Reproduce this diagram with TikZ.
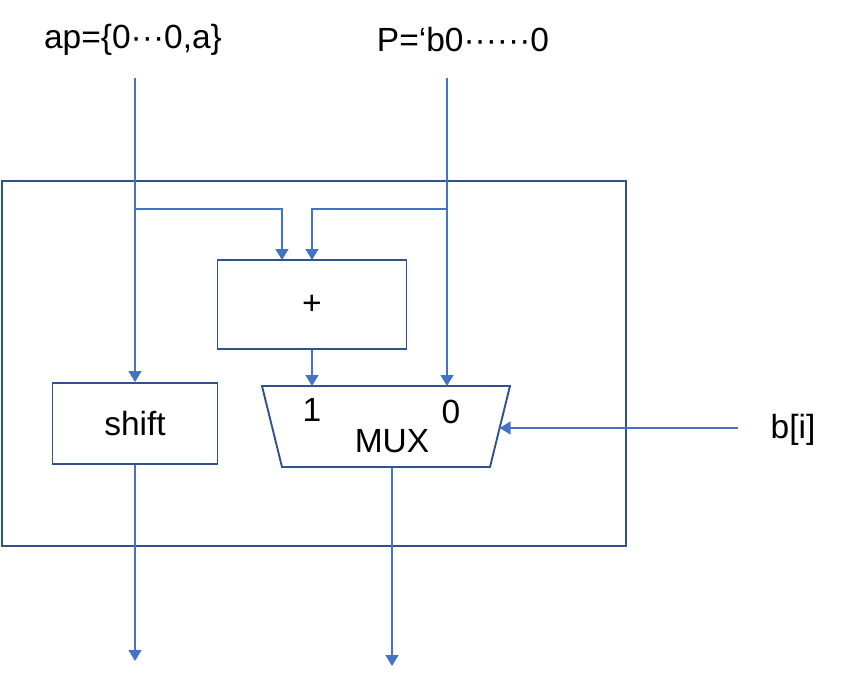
\documentclass[tikz,border=0pt]{standalone}
\usepackage{fontspec}
\setmainfont{Liberation Sans}
\usetikzlibrary{arrows.meta}
\definecolor{boxblue}{HTML}{2F528F}
\definecolor{linblue}{HTML}{4472C4}
\begin{document}
\begin{tikzpicture}[x=1pt,y=-1pt,
  box/.style={draw=boxblue,line width=1.9pt,minimum width=#1,inner sep=0pt},
  conn/.style={draw=linblue,line width=1.3pt},
  arr/.style={conn,-{Triangle[width=13pt,length=11pt]}},
  lbl/.style={font=\fontsize{33.5}{40}\selectfont,inner sep=0pt}]
\useasboundingbox (0,0) rectangle (844,680);
% boxes
\node[box=624pt,minimum height=365pt] (outer) at (314,363.5) {};
\node[box=189pt,minimum height=89pt,lbl] (plus) at (312,304.5) {+};
\node[box=165pt,minimum height=81pt,lbl] (shift) at (135,423.5) {shift};
% mux trapezoid
\coordinate (mtl) at (262,386);
\coordinate (mtr) at (510,386);
\coordinate (mbr) at (490,467);
\coordinate (mbl) at (282,467);
\draw[boxblue,line width=1.9pt,line join=miter] (mtl) -- (mtr) -- (mbr) -- (mbl) -- cycle;
\node[lbl] (mux) at (392,441) {MUX};
\node[lbl] (one) at (312,410) {1};
\node[lbl] (zero) at (451,412) {0};
% input labels
\node[lbl] (ap) at (133,40) {ap=\{0···0,a\}};
\node[lbl] (p) at (463,40) {P=‘b0······0};
\node[lbl] (bi) at (793,430) {b[i]};
% coordinates
\coordinate (apin) at (135,78);
\coordinate (pin) at (447,78);
\coordinate (j1) at (135,209);
\coordinate (j2) at (447,209);
\coordinate (plA) at (282,260);
\coordinate (plB) at (312,260);
\coordinate (m1) at (312,386);
\coordinate (m0) at (447,386);
\coordinate (bin) at (738,428);
\coordinate (msel) at (499.6,428);
\coordinate (mout) at (392,467);
\coordinate (out1) at (135,661);
\coordinate (out2) at (392,666);
% connectors
\draw[arr] (apin) -- (shift.north);
\draw[arr] (j1) -| (plA);
\draw[arr] (pin) -- (m0);
\draw[arr] (j2) -| (plB);
\draw[arr] (plus.south) -- (m1);
\draw[arr] (bin) -- (msel);
\draw[arr] (shift.south) -- (out1);
\draw[arr] (mout) -- (out2);
\end{tikzpicture}
\end{document}
